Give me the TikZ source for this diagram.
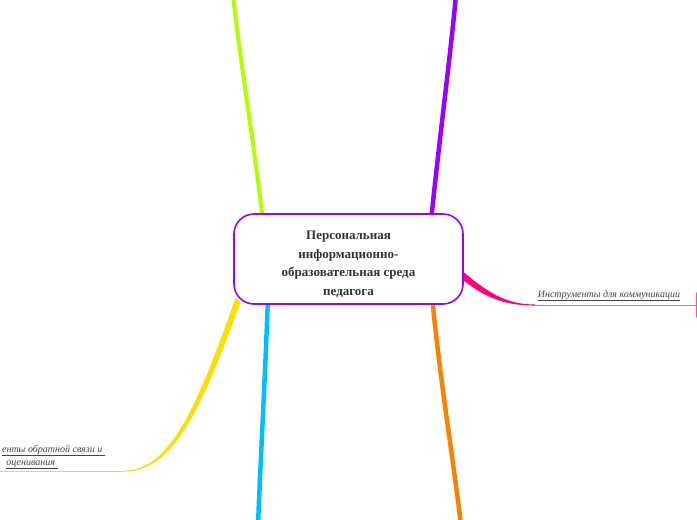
\documentclass[tikz,border=0pt]{standalone}
\usepackage{fontspec}
\setmainfont{Liberation Serif}
\begin{document}
\begin{tikzpicture}[x=1pt,y=-1pt,
  centralbox/.style={draw=cPurple, line width=1.6pt, fill=white, rounded corners=20pt,
    minimum width=229pt, minimum height=90pt, inner sep=0pt},
  centraltext/.style={inner sep=0pt, align=center,
    font=\fontsize{13pt}{18.6pt}\selectfont\bfseries, text=cText},
  branchlabel/.style={font=\fontsize{10pt}{13pt}\selectfont\itshape, text=cLabel, inner sep=0pt, align=center},
  childbox/.style={draw=cPink!70, line width=1pt, rounded corners=4pt, minimum width=60pt, minimum height=30pt},
  thinline/.style={line width=0.9pt}
]
\definecolor{cPurple}{HTML}{9900FF}
\definecolor{cGreen}{HTML}{B0FF00}
\definecolor{cBlue}{HTML}{00BFFF}
\definecolor{cOrange}{HTML}{FF8000}
\definecolor{cPink}{HTML}{FF0080}
\definecolor{cYellow}{HTML}{FFDD00}
\definecolor{cText}{HTML}{333333}
\definecolor{cLabel}{HTML}{444444}
\useasboundingbox (0,0) rectangle (697,520);
\clip (0,0) rectangle (697,520);

% coordinates
\coordinate (gTop) at (233,-5);
\coordinate (pTop) at (456,-5);
\coordinate (bBot) at (258,525);
\coordinate (oBot) at (461,525);
\coordinate (yEnd) at (-5,471);

% child node at right edge
\node[childbox, anchor=west] (comm) at (696,305) {};

% trunks (drawn before central box)
\draw[cGreen, line width=4pt] (263,222) .. controls (255,150) and (240,60) .. (gTop);
\draw[cPurple, line width=4.5pt] (431,222) .. controls (438,150) and (450,60) .. (pTop);
\draw[cBlue, line width=4.5pt] (268,296) .. controls (265,380) and (261,450) .. (bBot);
\draw[cOrange, line width=4.5pt] (432,296) .. controls (440,380) and (452,450) .. (oBot);

% yellow tapered branch
\fill[cYellow] (235.5,298) .. controls (200,398) and (172,470.5) .. (125,470.5)
  -- (125,471.5) .. controls (175,471.5) and (204,402) .. (240.5,302) -- cycle;
\draw[cYellow, thinline] (125,471) -- (yEnd);

% pink tapered branch
\fill[cPink] (460,269) .. controls (487,292) and (505,304.4) .. (535,304.5)
  -- (535,305.5) .. controls (503,305.8) and (482,296) .. (460,277.5) -- cycle;
\draw[cPink!65, thinline] (535,305) -- (comm.west);

% central node
\node[centralbox] (center) at (348.5,259) {};
\node[centraltext] (centerText) at (348.5,264.5) {Персональная\\информационно-\\образовательная среда\\педагога};

% labels
\node[branchlabel, anchor=base] (lblComm) at (609,297) {\underline{Инструменты для коммуникации}};
\node[branchlabel, anchor=base east] (lblFb1) at (105,452) {\underline{енты обратной связи и }};
\node[branchlabel, anchor=base] (lblFb2) at (32,465) {\underline{оценивания }};
\end{tikzpicture}
\end{document}
